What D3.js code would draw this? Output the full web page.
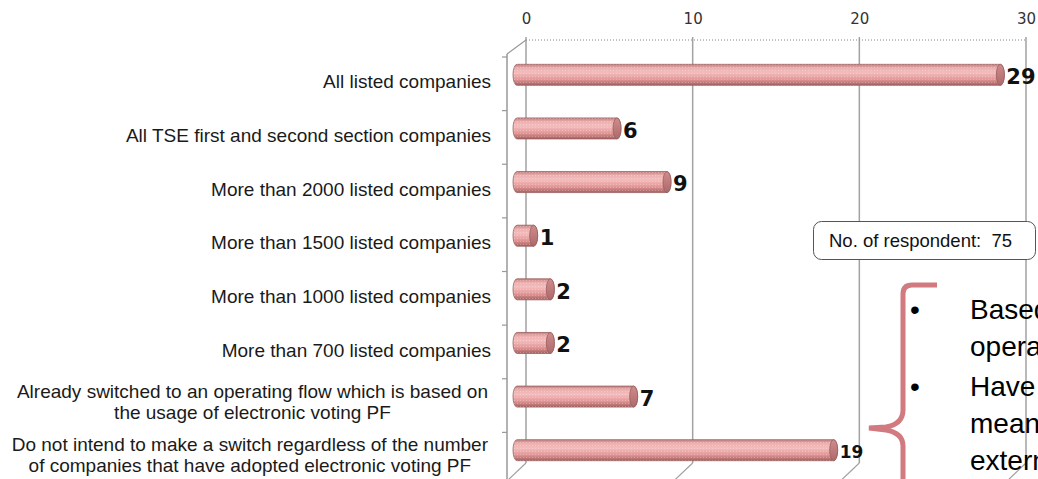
<!DOCTYPE html>
<html>
<head>
<meta charset="utf-8">
<script src="https://cdn.jsdelivr.net/npm/d3@7"></script>
<style>
  body { margin: 0; background: #fff; }
  svg { display: block; }
  .cat { font-family: "Liberation Sans", Arial, sans-serif; font-size: 19px; fill: #1a1a1a; }
  .tick text { font-family: "DejaVu Sans", Verdana, sans-serif; font-size: 15px; fill: #333; }
  .val { font-family: "DejaVu Sans", Verdana, sans-serif; font-weight: bold; fill: #111; }
  .note { font-family: "Liberation Sans", Arial, sans-serif; white-space: pre; }
</style>
</head>
<body>
<script>
// chart data
var categories = [
  "All listed companies",
  "All TSE first and second section companies",
  "More than 2000 listed companies",
  "More than 1500 listed companies",
  "More than 1000 listed companies",
  "More than 700 listed companies",
  "Already switched to an operating flow which is based on\nthe usage of electronic voting PF",
  "Do not intend to make a switch regardless of the number\nof companies that have adopted electronic voting PF"
];
var values = [29, 6, 9, 1, 2, 2, 7, 19];
var xTicks = [0, 10, 20, 30];
var respondents = "No. of respondent:  75";
var noteLines = ["Based", "operating", "Have", "means", "external"];

var width = 1038, height = 479;

var svg = d3.select("body").append("svg")
    .attr("width", width)
    .attr("height", height);

// back wall x scale, bars sit a bit in front of it
var x = d3.scaleLinear().domain([0, 30]).range([526, 1026]);
var y = d3.scaleBand().domain(categories).range([48, 477]);

var depthX = -19, depthY = 14;   // back wall -> front edge
var barDX = -9;                  // bars are mid-depth
var wallTop = 40, wallBottom = 463;
var barH = 21;

var defs = svg.append("defs");
var grad = defs.append("linearGradient")
    .attr("id", "cyl").attr("x1", 0).attr("y1", 0).attr("x2", 0).attr("y2", 1);
grad.append("stop").attr("offset", "0%").attr("stop-color", "#c48080");
grad.append("stop").attr("offset", "18%").attr("stop-color", "#eeb0b0");
grad.append("stop").attr("offset", "40%").attr("stop-color", "#f3bcbc");
grad.append("stop").attr("offset", "72%").attr("stop-color", "#e39696");
grad.append("stop").attr("offset", "100%").attr("stop-color", "#a46060");

var capGrad = defs.append("linearGradient")
    .attr("id", "cap").attr("x1", 0).attr("y1", 0).attr("x2", 0).attr("y2", 1);
capGrad.append("stop").attr("offset", "0%").attr("stop-color", "#d08c8c");
capGrad.append("stop").attr("offset", "100%").attr("stop-color", "#ac6a6a");

var pat = defs.append("pattern")
    .attr("id", "dots").attr("width", 3).attr("height", 3)
    .attr("patternUnits", "userSpaceOnUse");
pat.append("circle").attr("cx", 1.5).attr("cy", 1.5).attr("r", 0.6)
    .attr("fill", "#fff").attr("fill-opacity", 0.3);

// gridlines on the back wall + floor slants
var grid = svg.append("g");
grid.selectAll(".gl")
    .data(xTicks)
  .enter().append("line")
    .attr("x1", function(d){ return x(d); })
    .attr("x2", function(d){ return x(d); })
    .attr("y1", wallTop - 3)
    .attr("y2", wallBottom)
    .attr("stroke", "#a2a2a2")
    .attr("stroke-width", 1.5);
grid.selectAll(".fl")
    .data(xTicks)
  .enter().append("line")
    .attr("x1", function(d){ return x(d); })
    .attr("x2", function(d){ return x(d) + depthX; })
    .attr("y1", wallBottom)
    .attr("y2", wallBottom + depthY + 4)
    .attr("stroke", "#a2a2a2")
    .attr("stroke-width", 1.2);

// dotted top edge of the wall
svg.append("line")
    .attr("x1", x(0)).attr("x2", x(30))
    .attr("y1", wallTop).attr("y2", wallTop)
    .attr("stroke", "#888")
    .attr("stroke-width", 1)
    .attr("stroke-dasharray", "1,2");

// top axis labels
var xAxis = d3.axisTop(x).tickValues(xTicks).tickSize(0).tickPadding(0);
var gx = svg.append("g")
    .attr("transform", "translate(0,24)")
    .call(xAxis);
gx.select(".domain").remove();

// front left axis with ticks between categories
var frontX = x(0) + depthX;
svg.append("line")
    .attr("x1", frontX).attr("x2", frontX)
    .attr("y1", wallTop + depthY).attr("y2", height)
    .attr("stroke", "#999").attr("stroke-width", 1.5);
svg.append("line")
    .attr("x1", frontX).attr("x2", x(0))
    .attr("y1", wallTop + depthY).attr("y2", wallTop)
    .attr("stroke", "#999").attr("stroke-width", 1.2);
svg.selectAll(".ytick")
    .data(categories)
  .enter().append("line")
    .attr("x1", frontX - 5).attr("x2", frontX)
    .attr("y1", function(d){ return y(d) + 9; })
    .attr("y2", function(d){ return y(d) + 9; })
    .attr("stroke", "#999").attr("stroke-width", 1.2);

// category labels
svg.selectAll(".cat")
    .data(categories)
  .enter().append("text")
    .attr("class", "cat")
    .attr("text-anchor", "end")
    .each(function(d){
      var lines = d.split("\n");
      var cy = y(d) + y.bandwidth() / 2 + (lines.length > 1 ? 5 : 7);
      var t = d3.select(this);
      lines.forEach(function(l, i){
        t.append("tspan")
          .attr("x", lines.length > 1 ? 488 : 491)
          .attr("y", cy + (i - (lines.length - 1) / 2) * 21)
          .attr("dy", "0.35em")
          .text(l);
      });
    });
// second lines of wrapped labels are centred under the first
svg.selectAll(".cat").each(function(d){
  var lines = d.split("\n");
  if (lines.length < 2) return;
  var sp = d3.select(this).selectAll("tspan").nodes();
  var w0 = sp[0].getComputedTextLength(), w1 = sp[1].getComputedTextLength();
  d3.select(sp[1]).attr("x", 488 - (w0 - w1) / 2);
});

// cylinders
var bars = svg.selectAll(".bar")
    .data(values)
  .enter().append("g")
    .attr("class", "bar");

function body(v, i) {
  var c = categories[i];
  var yc = y(c) + y.bandwidth() / 2;
  var x0 = x(0) + barDX, x1 = x(v) + barDX;
  var t = yc - barH / 2, b = yc + barH / 2, r = 4;
  return "M" + x0 + "," + t + "L" + x1 + "," + t +
    "A" + r + "," + (barH / 2) + " 0 0 1 " + x1 + "," + b +
    "L" + x0 + "," + b +
    "A" + r + "," + (barH / 2) + " 0 0 1 " + x0 + "," + t + "Z";
}
bars.append("path")
    .attr("d", body)
    .attr("fill", "url(#cyl)")
    .attr("stroke", "#9a5e5e")
    .attr("stroke-width", 0.8);
bars.append("path")
    .attr("d", body)
    .attr("fill", "url(#dots)");
bars.append("ellipse")
    .attr("cx", function(d){ return x(d) + barDX; })
    .attr("cy", function(d, i){ return y(categories[i]) + y.bandwidth() / 2; })
    .attr("rx", 4)
    .attr("ry", barH / 2)
    .attr("fill", "url(#cap)")
    .attr("stroke", "#9a5e5e")
    .attr("stroke-width", 0.8);

// value labels
svg.selectAll(".val")
    .data(values)
  .enter().append("text")
    .attr("class", "val")
    .attr("x", function(d){ return x(d) + barDX + 6; })
    .attr("y", function(d, i){ return y(categories[i]) + y.bandwidth() / 2 + 2; })
    .attr("dy", "0.35em")
    .style("font-size", function(d){ return d === 19 ? "17px" : "21px"; })
    .text(function(d){ return d; });

// respondents box
svg.append("rect")
    .attr("x", 813.5).attr("y", 221.5)
    .attr("width", 222).attr("height", 38)
    .attr("rx", 8)
    .attr("fill", "#fff")
    .attr("stroke", "#555");
svg.append("text")
    .attr("class", "note")
    .attr("x", 829).attr("y", 241)
    .attr("dy", "0.35em")
    .style("font-size", "18.5px")
    .style("fill", "#111")
    .text(respondents);

// brace + bullets on the right
svg.append("path")
    .attr("d", "M937,285 L912,285 Q903,285 903,294 L903,410 Q903,424 886,427 L869,428 " +
               "L886,430 Q903,433 903,446 L903,485")
    .attr("fill", "none")
    .attr("stroke", "#d17a80")
    .attr("stroke-width", 5);

var baselines = [319, 356, 396, 433, 470];
var note = svg.append("g").attr("class", "note").style("font-size", "28px");
note.selectAll("text.line")
    .data(noteLines)
  .enter().append("text")
    .attr("x", 970)
    .attr("y", function(d, i){ return baselines[i]; })
    .text(function(d){ return d; });
note.selectAll("text.bul")
    .data([0, 2])
  .enter().append("text")
    .attr("x", 915)
    .attr("y", function(d){ return baselines[d]; })
    .attr("text-anchor", "middle")
    .text("\u2022");
</script>
</body>
</html>
